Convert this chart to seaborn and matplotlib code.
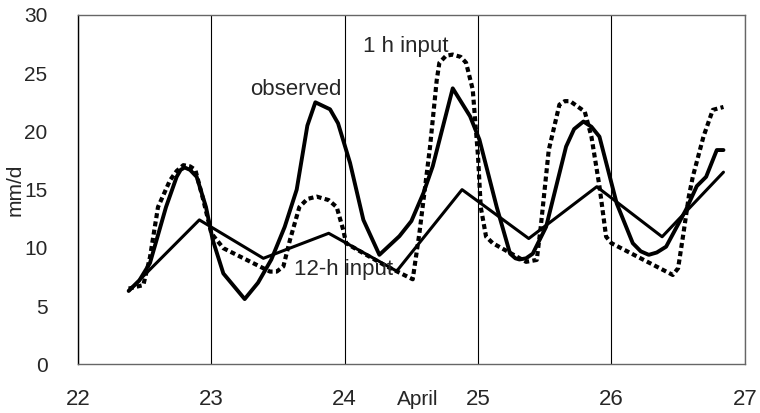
import matplotlib
import matplotlib.pyplot as plt
import pandas as pd
import seaborn as sns

matplotlib.use("Agg")

# observed discharge (mm/d)
obs_day = [22.38, 22.46, 22.54, 22.66, 22.74, 22.77, 22.80, 22.84, 22.89, 22.96,
           23.01, 23.09, 23.25, 23.35, 23.45, 23.55, 23.64, 23.72, 23.78, 23.89,
           23.95, 24.04, 24.14, 24.26, 24.41, 24.50, 24.59, 24.66, 24.81, 24.94,
           25.01, 25.14, 25.24, 25.28, 25.31, 25.36, 25.41, 25.51, 25.66, 25.72,
           25.79, 25.85, 25.91, 26.04, 26.16, 26.22, 26.28, 26.34, 26.41, 26.56,
           26.64, 26.71, 26.79, 26.84]
obs_val = [6.3, 7.2, 8.7, 13.5, 16.1, 16.7, 16.9, 16.7, 16.1, 13.5,
           10.7, 7.8, 5.6, 7.0, 9.0, 11.8, 15.0, 20.5, 22.5, 21.9,
           20.7, 17.3, 12.4, 9.4, 11.0, 12.3, 14.7, 17.0, 23.7, 21.3,
           19.3, 13.5, 9.5, 9.1, 9.0, 9.1, 9.5, 11.8, 18.7, 20.2,
           20.85, 20.4, 19.55, 13.8, 10.4, 9.7, 9.4, 9.6, 10.1, 13.3,
           15.3, 16.1, 18.4, 18.4]

# model with 1 h input
h1_day = [22.38, 22.49, 22.54, 22.60, 22.69, 22.74, 22.79, 22.84, 22.88, 22.94,
          23.00, 23.09, 23.44, 23.49, 23.54, 23.59, 23.66, 23.72, 23.79, 23.88,
          23.94, 23.99, 24.01, 24.10, 24.30, 24.51, 24.56, 24.64, 24.69, 24.71,
          24.76, 24.81, 24.87, 24.91, 24.96, 25.00, 25.02, 25.06, 25.11, 25.36,
          25.44, 25.47, 25.53, 25.61, 25.65, 25.69, 25.80, 25.85, 25.91, 25.96,
          26.00, 26.46, 26.50, 26.54, 26.58, 26.61, 26.69, 26.76, 26.84]
h1_val = [6.5, 6.8, 9.2, 13.5, 15.8, 16.6, 17.1, 17.0, 16.7, 14.1,
          11.25, 9.97, 7.96, 7.96, 8.4, 10.7, 13.5, 14.2, 14.4, 14.1,
          13.5, 11.5, 10.4, 9.8, 8.5, 7.3, 11.25, 18.7, 24.4, 25.9,
          26.5, 26.6, 26.4, 25.9, 23.6, 17.8, 13.5, 10.96, 10.4, 8.8,
          8.96, 11.8, 18.4, 22.3, 22.6, 22.6, 21.7, 19.55, 15.3, 10.96,
          10.4, 7.67, 8.25, 11.25, 14.4, 16.1, 19.55, 21.85, 22.1]

# model with 12-h input
h12_day = [22.38, 22.91, 23.39, 23.88, 24.39, 24.88, 25.38, 25.89, 26.38, 26.84]
h12_val = [6.3, 12.4, 9.1, 11.25, 8.0, 15.0, 10.8, 15.25, 10.95, 16.5]

obs_df = pd.DataFrame({'day': obs_day, 'q': obs_val})
h1_df = pd.DataFrame({'day': h1_day, 'q': h1_val})
h12_df = pd.DataFrame({'day': h12_day, 'q': h12_val})

sns.set_style('white')
plt.rcParams['font.family'] = ['Liberation Sans', 'DejaVu Sans']

fig = plt.figure(figsize=(7.6, 4.13), dpi=100)
ax = fig.add_axes([0.1026, 0.118, 0.8774, 0.8457])

sns.lineplot(data=h12_df, x='day', y='q', sort=False, estimator=None,
             color='black', linewidth=2.2, ax=ax)
sns.lineplot(data=h1_df, x='day', y='q', sort=False, estimator=None,
             color='black', linewidth=3.0, linestyle=(0, (1.2, 0.8)), ax=ax)
sns.lineplot(data=obs_df, x='day', y='q', sort=False, estimator=None,
             color='black', linewidth=2.8, ax=ax)

ax.set_xlim(22, 27)
ax.set_ylim(0, 30)
ax.set_xticks([22, 23, 24, 25, 26, 27])
ax.set_yticks([0, 5, 10, 15, 20, 25, 30])
ax.grid(axis='x', color='black', linewidth=0.8)
ax.grid(axis='y', visible=False)
ax.set_axisbelow(True)

for side in ['top', 'right', 'bottom']:
    ax.spines[side].set_color('#666666')
    ax.spines[side].set_linewidth(1.0)
ax.spines['left'].set_color('black')
ax.spines['left'].set_linewidth(1.0)

ax.tick_params(axis='y', direction='out', length=6, width=0.8, color='black',
               pad=16, labelsize=15)
ax.tick_params(axis='x', direction='out', length=7, width=0.8, color='#444444',
               pad=11, labelsize=16)

ax.set_xlabel('April', fontsize=15)
ax.xaxis.set_label_coords(0.51, -0.075)
ax.set_ylabel('mm/d', fontsize=15)
ax.yaxis.set_label_coords(-0.08, 0.5)

ax.text(23.63, 23.6, 'observed', fontsize=16, ha='center', va='center')
ax.text(24.46, 27.3, '1 h input', fontsize=16, ha='center', va='center')
ax.text(23.99, 8.1, '12-h input', fontsize=16, ha='center', va='center')

plt.savefig('out.png', dpi=100)
